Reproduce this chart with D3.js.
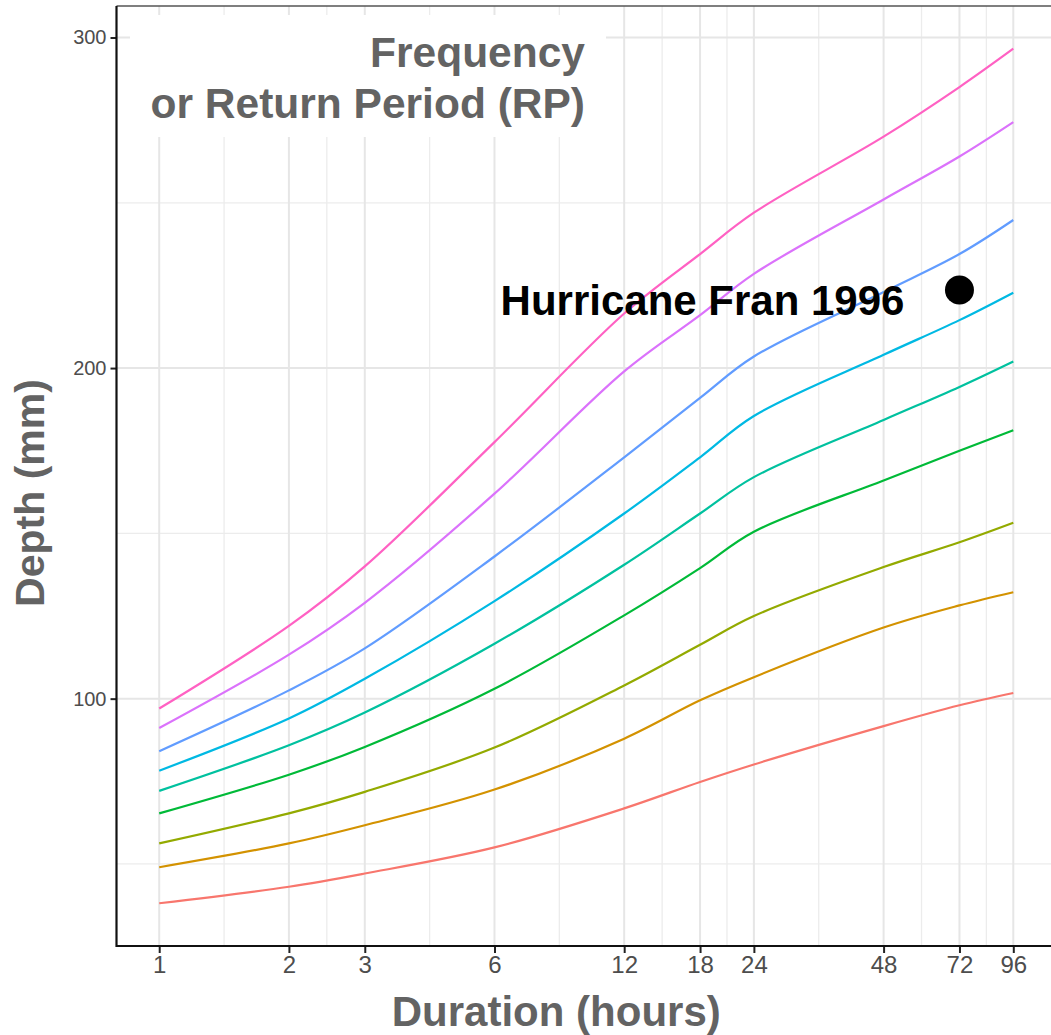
<!DOCTYPE html>
<html>
<head>
<meta charset="utf-8">
<script src="https://cdn.jsdelivr.net/npm/d3@7"></script>
<style>
  body { margin: 0; background: #fff; }
  svg { display: block; }
  .tick-y { font-family: "Liberation Sans", Arial, sans-serif; font-size: 20px; fill: #4d4d4d; }
  .tick-x { font-family: "Liberation Sans Narrow", "Liberation Sans", Arial, sans-serif; font-size: 24px; fill: #4d4d4d; }
  .title { font-family: "Liberation Sans", Arial, sans-serif; font-weight: bold; fill: #636363; }
</style>
</head>
<body>
<div id="chart"></div>
<script>
// durations (hours) on the x axis
const durations = [1, 2, 3, 6, 12, 18, 24, 48, 72, 96];
const depthTicks = [100, 200, 300];
const depthMinor = [50, 150, 250];

// depth (mm) per return period, lowest to highest
const rp1    = [38.1, 43.1, 47.1, 55.0, 66.8, 74.8, 80.1, 91.7, 98.0, 101.7];
const rp2    = [49.0, 56.2, 61.7, 72.5, 87.9, 99.5, 106.5, 121.5, 128.2, 132.2];
const rp5    = [56.2, 65.3, 71.8, 85.2, 104.0, 116.3, 125.0, 139.8, 147.3, 153.2];
const rp10   = [65.3, 77.0, 85.4, 103.0, 125.2, 139.5, 150.5, 166.0, 175.0, 181.2];
const rp25   = [72.1, 85.9, 95.8, 116.6, 140.5, 156.0, 167.0, 184.3, 194.3, 202.0];
const rp50   = [78.2, 94.0, 106.0, 129.5, 156.0, 173.0, 185.5, 204.0, 214.5, 222.8];
const rp100  = [84.1, 102.5, 115.2, 143.0, 173.0, 191.0, 203.5, 223.0, 234.5, 244.8];
const rp500  = [91.1, 113.3, 129.0, 162.0, 199.0, 216.0, 228.5, 251.0, 264.0, 274.4];
const rp1000 = [97.0, 122.0, 140.0, 177.6, 216.5, 234.5, 247.0, 270.0, 285.0, 296.6];

const seriesList = [rp1, rp2, rp5, rp10, rp25, rp50, rp100, rp500, rp1000];
const colors = ['#F8766D', '#D39200', '#93AA00', '#00BA38', '#00C19F', '#00B9E3', '#619CFF', '#DB72FB', '#FF61C3'];

// the storm marker
const franDuration = 72;
const franDepth = 223.6;
const franLabel = "Hurricane Fran 1996";

const W = 1051, H = 1035;
const panel = {left: 116.5, right: 1056, top: 6, bottom: 946};

const svg = d3.select("#chart").append("svg")
    .attr("width", W)
    .attr("height", H);

// scales with 5% expansion like ggplot
const lx = [Math.log(d3.min(durations)), Math.log(d3.max(durations))];
const lpad = (lx[1] - lx[0]) * 0.05;
const x = d3.scaleLog()
    .domain([Math.exp(lx[0] - lpad), Math.exp(lx[1] + lpad)])
    .range([panel.left, panel.right]);

const allVals = seriesList.flat();
const ymin = d3.min(allVals), ymax = d3.max(allVals);
const ypad = (ymax - ymin) * 0.05;
const y = d3.scaleLinear()
    .domain([ymin - ypad, ymax + ypad])
    .range([panel.bottom, panel.top]);

// grid
const grid = svg.append("g");
const xMinor = d3.pairs(durations).map(p => Math.sqrt(p[0] * p[1]));

grid.selectAll(".hminor").data(depthMinor).enter().append("line")
    .attr("x1", panel.left).attr("x2", panel.right)
    .attr("y1", d => y(d)).attr("y2", d => y(d))
    .attr("stroke", "#ececec").attr("stroke-width", 1.3);
grid.selectAll(".vminor").data(xMinor).enter().append("line")
    .attr("y1", panel.top).attr("y2", panel.bottom)
    .attr("x1", d => x(d)).attr("x2", d => x(d))
    .attr("stroke", "#ececec").attr("stroke-width", 1.3);
grid.selectAll(".hmajor").data(depthTicks).enter().append("line")
    .attr("x1", panel.left).attr("x2", panel.right)
    .attr("y1", d => y(d)).attr("y2", d => y(d))
    .attr("stroke", "#e6e6e6").attr("stroke-width", 2);
grid.selectAll(".vmajor").data(durations).enter().append("line")
    .attr("y1", panel.top).attr("y2", panel.bottom)
    .attr("x1", d => x(d)).attr("x2", d => x(d))
    .attr("stroke", "#e6e6e6").attr("stroke-width", 2);

// white box behind the legend title
svg.append("rect")
    .attr("x", 130).attr("y", 15)
    .attr("width", 476).attr("height", 122)
    .attr("fill", "#fff");

// lines
const line = d3.line()
    .x((d, i) => x(durations[i]))
    .y(d => y(d))
    .curve(d3.curveCatmullRom.alpha(0.5));

svg.append("g").selectAll("path")
    .data(seriesList)
    .enter().append("path")
    .attr("fill", "none")
    .attr("stroke", (d, i) => colors[i])
    .attr("stroke-width", 2.2)
    .attr("d", line);

// panel border top + axes
svg.append("line")
    .attr("x1", panel.left).attr("x2", panel.right)
    .attr("y1", panel.top).attr("y2", panel.top)
    .attr("stroke", "#555").attr("stroke-width", 1.5);

const yAxis = svg.append("g")
    .attr("transform", `translate(${panel.left},0)`)
    .call(d3.axisLeft(y).tickValues(depthTicks).tickSize(6).tickPadding(4));
yAxis.select(".domain").remove();
yAxis.selectAll(".tick line").attr("stroke", "#222").attr("stroke-width", 2);
yAxis.selectAll(".tick text").attr("class", "tick-y").attr("font-size", null).attr("font-family", null);

const xAxis = svg.append("g")
    .attr("transform", `translate(0,${panel.bottom})`)
    .call(d3.axisBottom(x).tickValues(durations).tickFormat(d3.format("d")).tickSize(7).tickPadding(3));
xAxis.select(".domain").remove();
xAxis.selectAll(".tick line").attr("stroke", "#222").attr("stroke-width", 2);
xAxis.selectAll(".tick text").attr("class", "tick-x").attr("font-size", null).attr("font-family", null);

svg.append("line")
    .attr("x1", panel.left).attr("x2", panel.left)
    .attr("y1", panel.top).attr("y2", panel.bottom + 1)
    .attr("stroke", "#111").attr("stroke-width", 2.2);
svg.append("line")
    .attr("x1", panel.left).attr("x2", panel.right)
    .attr("y1", panel.bottom).attr("y2", panel.bottom)
    .attr("stroke", "#111").attr("stroke-width", 2.2);

// legend title
const leg = svg.append("text")
    .attr("class", "title")
    .attr("text-anchor", "end")
    .attr("font-size", 42.5);
leg.append("tspan").attr("x", 585).attr("y", 67).text("Frequency");
leg.append("tspan").attr("x", 585).attr("y", 118).text("or Return Period (RP)");

// Hurricane Fran
svg.append("circle")
    .attr("cx", x(franDuration))
    .attr("cy", y(franDepth))
    .attr("r", 14.5)
    .attr("fill", "#000");
svg.append("text")
    .attr("x", x(franDuration) - 55)
    .attr("y", y(franDepth) + 25)
    .attr("text-anchor", "end")
    .attr("font-family", "Liberation Sans, Arial, sans-serif")
    .attr("font-weight", "bold")
    .attr("font-size", 42)
    .attr("fill", "#000")
    .text(franLabel);

// axis titles
svg.append("text")
    .attr("class", "title")
    .attr("text-anchor", "middle")
    .attr("font-size", 42)
    .attr("x", (x(1) + x(96)) / 2 - 30)
    .attr("y", 1026)
    .text("Duration (hours)");

svg.append("text")
    .attr("class", "title")
    .attr("text-anchor", "middle")
    .attr("font-size", 41)
    .attr("transform", `translate(44,${(panel.top + panel.bottom) / 2 + 17}) rotate(-90)`)
    .text("Depth (mm)");
</script>
</body>
</html>
